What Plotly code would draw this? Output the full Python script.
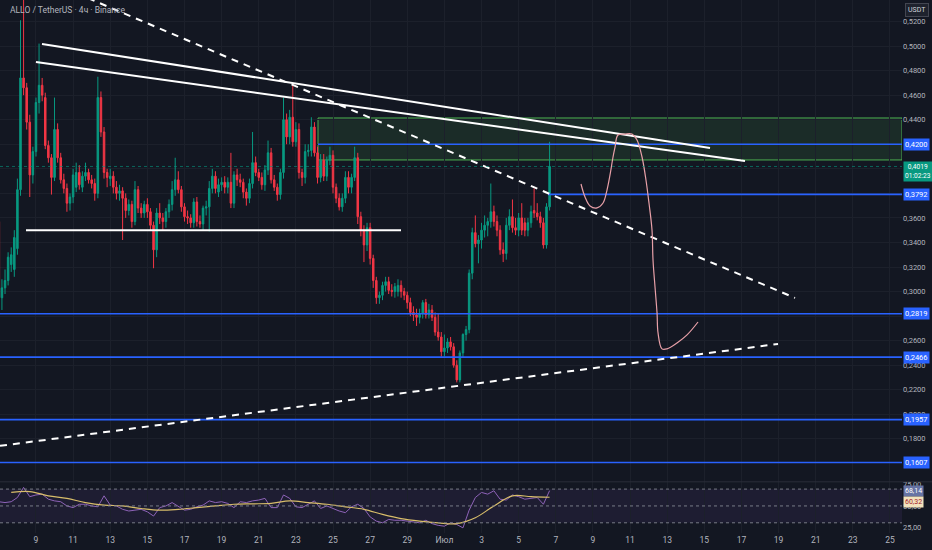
import pandas as pd
import plotly.graph_objects as go
from plotly.subplots import make_subplots

# ALLO/USDT 4h candles, 7 Jun -> 6 Jul
candle_start = "2025-06-07 00:00"

opens = [
    .357, .295, .303, .309, .322, .318, .335, .383, .474, .466,
    .438, .395, .414, .454, .468, .458, .419, .409, .393, .432,
    .409, .391, .384, .372, .377, .385, .397, .385, .394, .397,
    .391, .388, .380, .458, .430, .397, .392, .394, .385, .380,
    .382, .376, .366, .371, .357, .383, .368, .364, .371, .365,
    .354, .334, .364, .360, .357, .365, .371, .383, .391, .383,
    .369, .361, .360, .356, .373, .357, .355, .368, .369, .384,
    .394, .381, .387, .389, .385, .389, .372, .395, .391, .389,
    .381, .376, .388, .405, .397, .393, .387, .399, .413, .391,
    .385, .379, .397, .440, .426, .442, .422, .432, .397, .393,
    .414, .415, .434, .413, .393, .407, .394, .407, .411, .385,
    .376, .369, .376, .393, .385, .393, .409, .361, .350, .338,
    .352, .327, .309, .295, .297, .305, .308, .301, .300, .300,
    .305, .300, .297, .291, .283, .281, .279, .282, .291, .281,
    .285, .279, .267, .263, .251, .254, .259, .255, .240, .228,
    .250, .265, .269, .315, .348, .339, .342, .350, .354, .357,
    .365, .357, .350, .334, .331, .354, .361, .352, .350, .360,
    .356, .350, .356, .366, .364, .361, .356, .338, .369,
]
highs = [
    .437, .310, .318, .332, .336, .350, .392, .521, .545, .470,
    .444, .418, .458, .502, .474, .462, .423, .412, .458, .437,
    .413, .396, .388, .380, .400, .405, .403, .398, .405, .400,
    .395, .392, .475, .463, .434, .400, .400, .398, .390, .387,
    .385, .380, .375, .374, .390, .386, .372, .374, .376, .368,
    .357, .368, .372, .364, .368, .375, .390, .409, .398, .386,
    .372, .366, .363, .376, .377, .362, .370, .374, .390, .400,
    .398, .392, .393, .394, .393, .413, .398, .400, .396, .392,
    .384, .392, .430, .410, .400, .397, .403, .423, .417, .395,
    .388, .400, .458, .445, .448, .470, .438, .437, .400, .420,
    .420, .442, .438, .418, .412, .412, .410, .418, .415, .388,
    .380, .380, .398, .398, .396, .418, .413, .365, .354, .356,
    .356, .330, .312, .300, .308, .312, .312, .306, .307, .310,
    .309, .303, .300, .295, .288, .286, .286, .293, .294, .290,
    .289, .283, .282, .267, .265, .262, .263, .258, .244, .252,
    .266, .272, .318, .352, .362, .346, .356, .362, .360, .388,
    .370, .362, .354, .340, .360, .367, .375, .360, .364, .372,
    .360, .360, .370, .384, .372, .365, .360, .372, .422,
]
lows = [
    .290, .285, .298, .305, .316, .312, .330, .378, .460, .432,
    .377, .388, .410, .445, .455, .416, .405, .379, .390, .405,
    .388, .380, .365, .366, .372, .381, .383, .381, .390, .388,
    .384, .374, .376, .426, .392, .385, .386, .380, .375, .374,
    .342, .360, .362, .352, .354, .364, .360, .360, .360, .350,
    .319, .328, .355, .350, .352, .360, .366, .378, .380, .365,
    .357, .355, .352, .352, .353, .352, .350, .362, .349, .380,
    .380, .377, .382, .380, .380, .368, .368, .386, .385, .376,
    .370, .372, .384, .394, .390, .383, .382, .395, .388, .382,
    .374, .375, .392, .420, .420, .418, .418, .392, .386, .388,
    .410, .410, .410, .388, .389, .390, .390, .403, .380, .372,
    .366, .365, .372, .380, .380, .390, .355, .345, .324, .333,
    .322, .303, .290, .290, .293, .300, .298, .296, .295, .296,
    .295, .293, .286, .280, .276, .272, .274, .278, .278, .278,
    .276, .264, .260, .247, .247, .250, .252, .238, .226, .226,
    .246, .260, .266, .310, .336, .323, .335, .344, .345, .352,
    .353, .345, .330, .324, .326, .350, .348, .346, .345, .346,
    .345, .345, .352, .360, .358, .352, .335, .335, .366,
]
closes = [
    .295, .303, .309, .328, .330, .344, .383, .474, .466, .438,
    .395, .414, .454, .468, .460, .419, .409, .393, .432, .409,
    .391, .384, .372, .377, .395, .397, .387, .394, .397, .391,
    .388, .380, .458, .430, .397, .393, .394, .385, .380, .382,
    .376, .366, .371, .357, .383, .368, .364, .371, .365, .354,
    .334, .364, .360, .357, .365, .371, .383, .391, .383, .369,
    .361, .360, .356, .373, .357, .355, .368, .369, .384, .394,
    .384, .387, .389, .385, .389, .372, .395, .391, .389, .381,
    .376, .388, .405, .397, .393, .387, .399, .413, .391, .385,
    .379, .397, .440, .426, .442, .422, .432, .397, .393, .414,
    .415, .434, .413, .393, .407, .394, .407, .411, .385, .376,
    .369, .376, .393, .385, .393, .409, .361, .350, .338, .352,
    .327, .309, .295, .297, .305, .308, .301, .300, .304, .305,
    .300, .297, .291, .283, .281, .279, .282, .291, .281, .285,
    .279, .267, .263, .251, .254, .259, .255, .240, .228, .250,
    .265, .269, .315, .348, .339, .342, .350, .354, .357, .365,
    .357, .350, .334, .331, .354, .361, .352, .350, .360, .350,
    .350, .356, .365, .364, .361, .356, .338, .369, .4019,
]

# RSI (8h steps) and its moving average (daily steps)
rsi_start = "2025-06-07 00:00"
rsi_vals = [
    55, 54, 55, 60, 72, 61, 63, 64, 58, 56,
    55, 50, 48, 52, 52, 50, 49, 62, 51, 50,
    46, 44, 45, 46, 43, 38, 48, 50, 54, 49,
    45, 46, 49, 51, 56, 54, 55, 53, 48, 55,
    54, 56, 57, 59, 48, 48, 63, 59, 49, 48,
    52, 56, 47, 50, 47, 44, 42, 49, 52, 47,
    37, 32, 30, 34, 33, 33, 32, 31, 30, 33,
    29, 27, 26, 30, 28, 24, 45, 60, 66, 64,
    68, 58, 57, 63, 61, 58, 59, 60, 52, 68.14,
]
ma_start = "2025-06-07 16:00"
rsi_ma = [66, 67, 62, 59, 54, 51, 50, 47, 45, 46,
          48, 50, 52, 52.5, 53, 56, 54, 52, 49, 46,
          40, 35, 32, 30, 29, 36, 50, 62, 61, 60.32]

# drawings on the chart
X_START = "2025-06-07 01:30"
X_END = "2025-07-25 15:35"
resist_1 = (["2025-06-09 07:48", "2025-07-15 07:24"], [0.5016, 0.4169])
resist_2 = (["2025-06-09 00:00", "2025-07-17 04:36"], [0.4870, 0.4063])
dash_down = (["2025-06-11 19:18", "2025-07-19 21:18"], [0.539, 0.2948])
dash_up = ([X_START, "2025-07-18 23:18"], [0.1743, 0.2573])
range_line = (["2025-06-08 11:06", "2025-06-28 15:54"], [0.350, 0.350])
zone_start = "2025-06-24 04:36"
zone_low, zone_high = 0.4072, 0.4414

levels = [0.4200, 0.3792, 0.2819, 0.2466, 0.1957, 0.1607]
level_starts = [zone_start, "2025-07-06 14:00", X_START, X_START, X_START, X_START]
countdown = "01:02:23"

path_x = ["2025-07-08 08:36", "2025-07-08 13:48", "2025-07-08 20:18", "2025-07-09 05:18",
          "2025-07-09 13:06", "2025-07-09 18:12", "2025-07-09 22:06", "2025-07-10 02:00",
          "2025-07-10 04:36", "2025-07-10 08:24", "2025-07-10 17:30", "2025-07-11 02:30",
          "2025-07-11 09:00", "2025-07-11 15:30", "2025-07-11 20:36", "2025-07-12 00:30",
          "2025-07-12 04:24", "2025-07-12 05:42", "2025-07-12 08:18", "2025-07-12 10:54",
          "2025-07-12 12:12", "2025-07-12 17:18", "2025-07-12 23:48", "2025-07-13 12:42",
          "2025-07-14 01:42", "2025-07-14 15:54"]
path_y = [0.3876, 0.3770, 0.3697, 0.3681, 0.3721, 0.3827, 0.3950, 0.4096,
          0.4177, 0.4275, 0.4283, 0.4283, 0.4235, 0.4096, 0.3909, 0.3721,
          0.3502, 0.3257, 0.3037, 0.2826, 0.2663, 0.2533, 0.2533, 0.2581,
          0.2647, 0.2752]

price_ticks = [0.18, 0.20, 0.22, 0.24, 0.26, 0.28, 0.30, 0.32, 0.34, 0.36,
               0.38, 0.40, 0.42, 0.44, 0.46, 0.48, 0.50, 0.52]
# these tick labels sit under the price boxes on the original
hidden_ticks = [0.28, 0.38, 0.40, 0.42]
day_ticks = pd.date_range("2025-06-09", "2025-07-25", freq="2D")
day_labels = ["9", "11", "13", "15", "17", "19", "21", "23", "25", "27", "29",
              "Июл", "3", "5", "7", "9", "11", "13", "15", "17", "19", "21", "23", "25"]

BG = "#131722"
GRID = "#1c202b"
TXT = "#b2b5be"
BLUE = "#2962ff"
UP = "#089981"
DOWN = "#f23645"


def fmt(v, nd=4):
    return f"{v:.{nd}f}".replace(".", ",")


times = pd.date_range(candle_start, periods=len(closes), freq="4h")
rsi_t = pd.date_range(rsi_start, periods=len(rsi_vals), freq="8h")
ma_t = pd.date_range(ma_start, periods=len(rsi_ma), freq="24h")

fig = make_subplots(rows=2, cols=1, shared_xaxes=True, vertical_spacing=0,
                    row_heights=[0.904, 0.096])

fig.add_trace(go.Candlestick(
    x=times, open=opens, high=highs, low=lows, close=closes,
    increasing=dict(line=dict(color=UP, width=1), fillcolor=UP),
    decreasing=dict(line=dict(color=DOWN, width=1), fillcolor=DOWN),
    hoverinfo="skip"), row=1, col=1)

# horizontal levels
for p, x0 in zip(levels, level_starts):
    fig.add_trace(go.Scatter(x=[x0, X_END], y=[p, p], mode="lines",
                             line=dict(color=BLUE, width=1.6), hoverinfo="skip"), row=1, col=1)

# trend lines
for xs, ys in (resist_1, resist_2, range_line):
    fig.add_trace(go.Scatter(x=xs, y=ys, mode="lines",
                             line=dict(color="#ffffff", width=2), hoverinfo="skip"), row=1, col=1)
for xs, ys in (dash_down, dash_up):
    fig.add_trace(go.Scatter(x=xs, y=ys, mode="lines",
                             line=dict(color="#ffffff", width=2, dash="7px,6px"),
                             hoverinfo="skip"), row=1, col=1)

# hand drawn path
fig.add_trace(go.Scatter(x=path_x, y=path_y, mode="lines",
                         line=dict(color="#e8a0a8", width=1.2, shape="spline"),
                         hoverinfo="skip"), row=1, col=1)

# RSI pane
fig.add_trace(go.Scatter(x=rsi_t, y=rsi_vals, mode="lines",
                         line=dict(color="#8e63b8", width=1), hoverinfo="skip"), row=2, col=1)
fig.add_trace(go.Scatter(x=ma_t, y=rsi_ma, mode="lines",
                         line=dict(color="#d8bd6a", width=1.2, shape="spline"),
                         hoverinfo="skip"), row=2, col=1)

shapes = [
    dict(type="rect", xref="x", yref="y", x0=zone_start, x1=X_END, y0=zone_low, y1=zone_high,
         fillcolor="rgba(76,175,80,0.14)", line=dict(color="#4caf50", width=1), layer="below"),
    dict(type="line", xref="paper", yref="y", x0=0, x1=1, y0=closes[-1], y1=closes[-1],
         line=dict(color=UP, width=1, dash="dot"), opacity=0.6),
    dict(type="rect", xref="paper", yref="y2", x0=0, x1=1, y0=30, y1=70,
         fillcolor="rgba(126,87,194,0.1)", line=dict(width=0), layer="below"),
    dict(type="line", xref="paper", yref="paper", x0=0, x1=1.04, y0=0.096, y1=0.096,
         line=dict(color="#2a2e39", width=1)),
]
for lv in (70, 50, 30):
    shapes.append(dict(type="line", xref="paper", yref="y2", x0=0, x1=1, y0=lv, y1=lv,
                       line=dict(color="#787b86", width=1, dash="3px,3px")))

annotations = [
    dict(text="ALLO / TetherUS · 4ч · Binance", xref="paper", yref="paper", x=0, y=1,
         xanchor="left", yanchor="top", xshift=8, yshift=-3, showarrow=False,
         font=dict(size=8.5, color=TXT)),
    dict(text="USDT", xref="paper", yref="paper", x=1.003, y=1, xanchor="left", yanchor="top",
         yshift=-3, showarrow=False, bgcolor="#1e222d", bordercolor="#434651", borderwidth=1,
         borderpad=2, font=dict(size=7, color="#d1d4dc")),
]
for p in levels:
    annotations.append(dict(text=fmt(p), xref="paper", yref="y", x=1, y=p,
                            xanchor="left", yanchor="middle", xshift=1, showarrow=False,
                            bgcolor=BLUE, borderpad=1, font=dict(size=7.5, color="#ffffff")))
annotations.append(dict(text=fmt(closes[-1]) + "<br>" + countdown,
                        xref="paper", yref="y", x=1, y=closes[-1], xanchor="left", yanchor="top",
                        xshift=1, yshift=5, showarrow=False, bgcolor=UP, borderpad=1,
                        font=dict(size=6.6, color="#ffffff")))
annotations.append(dict(text=fmt(rsi_vals[-1], 2), xref="paper", yref="y2",
                        x=1, y=rsi_vals[-1], xanchor="left", yanchor="middle", xshift=1,
                        showarrow=False, bgcolor="#6673a3", borderpad=1,
                        font=dict(size=7, color="#ffffff")))
annotations.append(dict(text=fmt(rsi_ma[-1], 2), xref="paper", yref="y2",
                        x=1, y=rsi_ma[-1], xanchor="left", yanchor="top", xshift=1, yshift=1,
                        showarrow=False, bgcolor="#f1e2bd", borderpad=1,
                        font=dict(size=7, color="#a3202a")))

fig.update_layout(
    width=932, height=550,
    margin=dict(l=0, r=30, t=0, b=17),
    paper_bgcolor=BG, plot_bgcolor=BG,
    showlegend=False, separators=",.",
    font=dict(family="Roboto", size=8, color=TXT),
    shapes=shapes, annotations=annotations,
)
fig.update_xaxes(range=[X_START, X_END], showgrid=True, gridcolor=GRID, zeroline=False,
                 showline=False, tickvals=day_ticks, ticktext=day_labels, ticks="",
                 rangeslider_visible=False)
fig.update_xaxes(showticklabels=False, row=1, col=1)
fig.update_xaxes(showticklabels=True, tickfont=dict(size=8.5, color=TXT), row=2, col=1)
fig.update_yaxes(side="right", range=[0.145, 0.5375], tickvals=price_ticks,
                 ticktext=["" if v in hidden_ticks else fmt(v) for v in price_ticks],
                 showgrid=True, gridcolor=GRID, zeroline=False, ticks="",
                 tickfont=dict(size=7.5, color=TXT), row=1, col=1)
fig.update_yaxes(side="right", range=[17.9, 78.6], tickvals=[25, 50, 75], tickformat=".2f",
                 showgrid=False, zeroline=False, ticks="",
                 tickfont=dict(size=7.5, color=TXT), row=2, col=1)

# the page's default body margin would shift the chart by 8px
fig.write_html("out.html", config={"displayModeBar": False},
               post_script="document.body.style.margin='0';"
                           "document.body.style.background='%s';" % BG)
